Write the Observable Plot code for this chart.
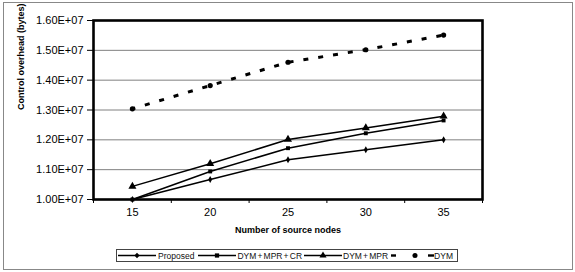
<!DOCTYPE html>
<html>
<head>
<meta charset="utf-8">
<script src="https://cdn.jsdelivr.net/npm/d3@7"></script>
<script src="https://cdn.jsdelivr.net/npm/@observablehq/plot@0.6"></script>
<style>
  html, body { margin: 0; padding: 0; background: #fff; }
  body { width: 575px; height: 272px; position: relative; overflow: hidden; font-family: "Liberation Sans", Arial, sans-serif; }
  #outer { position: absolute; left: 3px; top: 2px; width: 568px; height: 266px; border: 1px solid #888; box-sizing: content-box; }
  #chart { position: absolute; left: 0; top: 0; }
  #legend { position: absolute; left: 116px; top: 249px; width: 340px; height: 11px; border: 1px solid #444; display: flex; align-items: center; padding: 0; font-size: 8.5px; word-spacing: -1.2px; color: #111; white-space: nowrap; }
  #legend .item { display: flex; align-items: center; }
  #legend svg { display: block; }
</style>
</head>
<body>
<div id="outer"></div>
<div id="chart"></div>
<div id="legend"></div>
<script>
const nodes = [15, 20, 25, 30, 35];
const proposed = [1.000e7, 1.067e7, 1.133e7, 1.167e7, 1.200e7];
const dymMprCr = [1.000e7, 1.094e7, 1.172e7, 1.222e7, 1.265e7];
const dymMpr  = [1.044e7, 1.120e7, 1.201e7, 1.240e7, 1.279e7];
const dym     = [1.304e7, 1.382e7, 1.460e7, 1.502e7, 1.551e7];
const yTicks = [1.0e7, 1.1e7, 1.2e7, 1.3e7, 1.4e7, 1.5e7, 1.6e7];
const seriesNames = ["Proposed", "DYM + MPR + CR", "DYM + MPR", "DYM"];
const xLabel = "Number of source nodes";
const yLabel = "Control overhead (bytes)";

const seriesValues = [proposed, dymMprCr, dymMpr, dym];
const symbols = ["diamond", "square", "triangle", "circle"];
const radii = [2.1, 2.2, 3.0, 2.6];
const table = [];
seriesNames.forEach((s, i) => nodes.forEach((n, j) => table.push({series: s, n, v: seriesValues[i][j]})));

const fmt = v => (v / 1e7).toFixed(2) + "E+07";
const boundaries = [12.5, 17.5, 22.5, 27.5, 32.5, 37.5];

const marks = [
  Plot.gridY(yTicks, {stroke: "#808080", strokeOpacity: 1, strokeWidth: 1}),
  Plot.axisY(yTicks, {tickFormat: fmt, tickSize: 6, tickPadding: 4, label: null, fontSize: 11}),
  Plot.axisX(boundaries, {tickFormat: () => "", tickSize: 4, label: null}),
  Plot.axisX(nodes, {tickSize: 0, tickPadding: 9, label: null, fontSize: 11}),
  Plot.text([xLabel], {frameAnchor: "bottom", dy: 33, fontWeight: "bold", fontSize: 9, letterSpacing: "0.2px"}),
  Plot.text([yLabel], {frameAnchor: "left", dx: -72, rotate: -90, fontWeight: "bold", fontSize: 9})
];
seriesNames.forEach((s, i) => {
  const d = table.filter(r => r.series === s);
  const dashed = s === "DYM";
  marks.push(Plot.line(d, {x: "n", y: "v", stroke: "black", strokeWidth: dashed ? 3 : 1.5,
    strokeLinecap: dashed ? "butt" : "round",
    strokeDasharray: dashed ? "5,10" : null, strokeDashoffset: dashed ? 2 : null}));
  marks.push(Plot.dot(d, {x: "n", y: "v", symbol: () => symbols[i], r: radii[i], fill: "black", stroke: "none"}));
});
marks.push(Plot.frame({stroke: "black", strokeWidth: 2.6}));

const chart = Plot.plot({
  width: 575,
  height: 245,
  marginLeft: 93,
  marginRight: 93,
  marginTop: 20,
  marginBottom: 46,
  x: {domain: [12.5, 37.5]},
  y: {domain: [1.0e7, 1.6e7]},
  style: {fontFamily: "'Liberation Sans', Arial, sans-serif", fontSize: "11px", background: "transparent", color: "black", overflow: "visible"},
  marks
});
document.getElementById("chart").appendChild(chart);

// legend
const legend = document.getElementById("legend");
const symPath = {
  diamond: d3.symbol(d3.symbolDiamond2, 18)(),
  square: d3.symbol(d3.symbolSquare, 18)(),
  triangle: d3.symbol(d3.symbolTriangle, 22)(),
  circle: d3.symbol(d3.symbolCircle, 20)()
};
const textGaps = [[2, 4], [1, 2], [1, 3], [0, 0]];
seriesNames.forEach((s, i) => {
  const item = document.createElement("div");
  item.className = "item";
  const dashed = s === "DYM";
  const w = dashed ? 43 : 38;
  const svg = d3.create("svg").attr("width", w).attr("height", 9);
  if (dashed) {
    svg.append("line").attr("x1", 0).attr("x2", 5).attr("y1", 4.5).attr("y2", 4.5).attr("stroke", "black").attr("stroke-width", 2.4);
    svg.append("line").attr("x1", 37).attr("x2", 43).attr("y1", 4.5).attr("y2", 4.5).attr("stroke", "black").attr("stroke-width", 2.4);
  } else {
    svg.append("line").attr("x1", 0).attr("x2", w).attr("y1", 4.5).attr("y2", 4.5).attr("stroke", "black").attr("stroke-width", 1.5);
  }
  svg.append("path").attr("d", symPath[symbols[i]]).attr("transform", `translate(${dashed ? 24 : w / 2},4.5)`).attr("fill", "black");
  svg.style("margin-left", i === 0 ? "1px" : "0");
  item.appendChild(svg.node());
  const t = document.createElement("span");
  t.textContent = s;
  t.style.marginLeft = textGaps[i][0] + "px";
  t.style.marginRight = textGaps[i][1] + "px";
  item.appendChild(t);
  legend.appendChild(item);
});
</script>
</body>
</html>
